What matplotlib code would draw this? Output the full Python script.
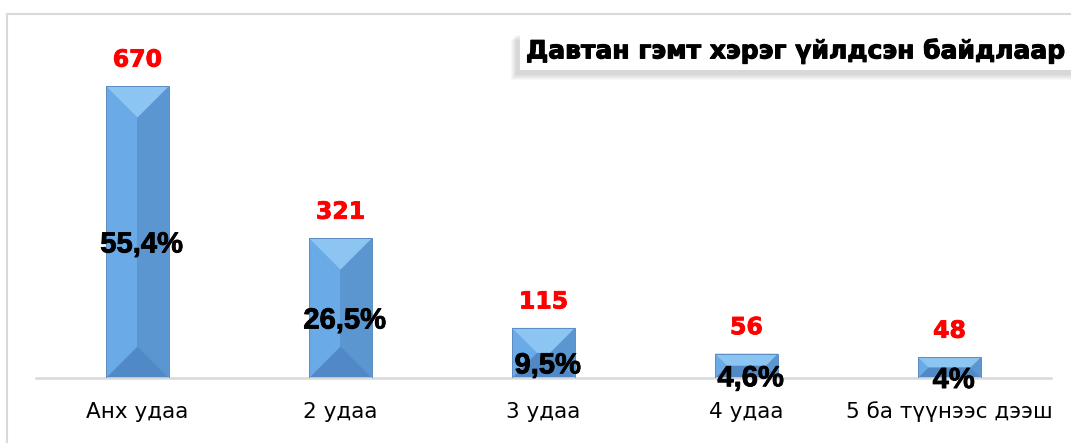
import numpy as np
import matplotlib
matplotlib.use('Agg')
import matplotlib.pyplot as plt
import matplotlib.patheffects as pe
from matplotlib.patches import Polygon, Rectangle

# Chart data
categories = ['Анх удаа', '2 удаа', '3 удаа', '4 удаа', '5 ба түүнээс дээш']
counts = [670, 321, 115, 56, 48]
percents = ['55,4%', '26,5%', '9,5%', '4,6%', '4%']
title = 'Давтан гэмт хэрэг үйлдсэн байдлаар'

W, H = 1071, 443
fig = plt.figure(figsize=(W / 100, H / 100), dpi=100)

# axes placed in pixel terms
ax = fig.add_axes([36 / W, 65 / H, 1015 / W, 348 / H])
ax.set_xlim(-0.5, len(categories) - 0.5)
ax.set_ylim(0, 348 / (292 / 670))

x = np.arange(len(categories))
bars = ax.bar(x, counts, width=0.31, facecolor='none',
              edgecolor='#5b8cc2', linewidth=0.7, zorder=3)

# bevel facets built from each bar's geometry
c_left, c_right, c_top, c_bot = '#6aaae6', '#5b96d1', '#8dc5f2', '#5189c6'
inv = ax.transData.inverted()
for b in bars:
    (x0, y0), (x1, y1) = ax.transData.transform(
        [(b.get_x(), b.get_y()), (b.get_x() + b.get_width(), b.get_y() + b.get_height())])
    xc = (x0 + x1) / 2
    d = min(x1 - x0, y1 - y0) / 2
    facets = [
        ([(x0, y0), (xc, y0), (xc, y1), (x0, y1)], c_left),
        ([(xc, y0), (x1, y0), (x1, y1), (xc, y1)], c_right),
        ([(x0, y1), (x1, y1), (x1 - d, y1 - d), (x0 + d, y1 - d)], c_top),
        ([(x0, y0), (x1, y0), (x1 - d, y0 + d), (x0 + d, y0 + d)], c_bot),
    ]
    for pts, col in facets:
        ax.add_patch(Polygon(inv.transform(pts), closed=True, facecolor=col,
                             edgecolor='none', zorder=2))

# labels (thin stroke to make them heavier, like the original)
for i, (v, p) in enumerate(zip(counts, percents)):
    ax.annotate(str(v), (x[i], v), xytext=(0, 19), textcoords='offset points',
                ha='center', va='center', color='#ff0000', fontsize=17,
                fontweight='bold', family='DejaVu Sans', zorder=5,
                path_effects=[pe.withStroke(linewidth=0.6, foreground='#ff0000')])
    ax.annotate(p, (x[i], v / 2), xytext=(3, -9), textcoords='offset points',
                ha='center', va='center', color='black', fontsize=21,
                fontweight='bold', family='Liberation Sans', zorder=5,
                path_effects=[pe.withStroke(linewidth=0.6, foreground='black')])

ax.set_xticks(x)
ax.set_xticklabels(categories, fontsize=15.5, family='DejaVu Sans')
ax.tick_params(axis='x', length=0, pad=17)
ax.set_yticks([])
for s in ['top', 'left', 'right']:
    ax.spines[s].set_visible(False)
ax.spines['bottom'].set_color('#d9d9d9')
ax.spines['bottom'].set_linewidth(1.8)
ax.patch.set_visible(False)

# outer chart frame
fig.patches.append(Rectangle((7 / W, -0.1), 1.2, 1 - 14 / H + 0.1,
                             transform=fig.transFigure, fill=False,
                             edgecolor='#d9d9d9', linewidth=1.5, zorder=0))

# title box with soft shadow
bx0, bx1 = 520, 1090
by_top, by_bot = 30, 70
for g in range(6, 0, -1):
    fig.patches.append(Rectangle(((bx0 - 3 - g) / W, (H - by_bot - 4 - g) / H),
                                 (bx1 - bx0) / W, (by_bot - by_top) / H,
                                 transform=fig.transFigure, facecolor='#808080',
                                 edgecolor='none', alpha=0.055, zorder=1))
fig.patches.append(Rectangle((bx0 / W, (H - by_bot) / H), (bx1 - bx0) / W,
                             (by_bot - by_top) / H, transform=fig.transFigure,
                             facecolor='white', edgecolor='none', zorder=2))
fig.text(526 / W, (H - 51) / H, title, fontsize=18, fontweight='bold',
         family='DejaVu Sans', ha='left', va='center', zorder=3,
         path_effects=[pe.withStroke(linewidth=0.8, foreground='black')])

fig.savefig('out.png', dpi=100)
